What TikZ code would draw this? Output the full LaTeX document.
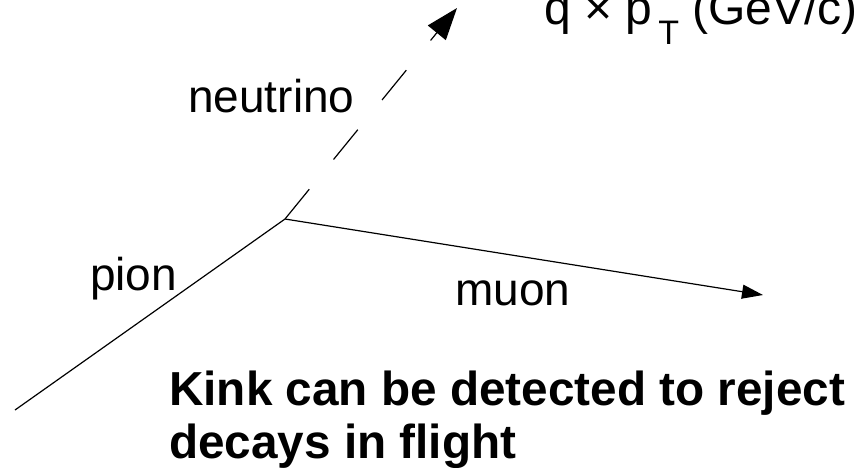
\documentclass[tikz,border=0pt]{standalone}
\usepackage{fontspec}
\setmainfont{Liberation Sans}
\usetikzlibrary{arrows.meta}
\begin{document}
\begin{tikzpicture}[x=1pt,y=-1pt,
  track/.style={line width=1.2pt, black},
  lbl/.style={anchor=base west, inner sep=0pt, font=\fontsize{46}{53}\selectfont},
  boldlbl/.style={anchor=base west, inner sep=0pt, font=\fontsize{47.7}{53}\selectfont\bfseries}]
\useasboundingbox (0,0) rectangle (856,467);
\clip (0,0) rectangle (856,467);
\fill[white] (0,0) rectangle (856,467);
% vertices
\coordinate (start) at (15,410);
\coordinate (kink) at (285,219);
\coordinate (nuend) at (457,8);
\coordinate (muend) at (763,295);
% tracks
\draw[track] (start) -- (kink);
\draw[track, dash pattern=on 38.4pt off 38.4pt, -{Triangle[length=32pt,width=23pt]}] (kink) -- (nuend);
\draw[track, -{Triangle[length=21pt,width=14pt]}] (kink) -- (muend);
% labels
\node[lbl] (nulbl) at (188,112) {neutrino};
\node[lbl] (pilbl) at (90,290) {pion};
\node[lbl] (mulbl) at (455,305) {muon};
\node[lbl, font=\fontsize{48}{53}\selectfont] (axis) at (544,24) {q × p\hspace{6pt}\raisebox{-20pt}{\fontsize{34}{34}\selectfont T} (GeV/c)};
\node[boldlbl] (note1) at (169,405) {Kink can be detected to reject};
\node[boldlbl] (note2) at (169,458) {decays in flight};
\end{tikzpicture}
\end{document}
